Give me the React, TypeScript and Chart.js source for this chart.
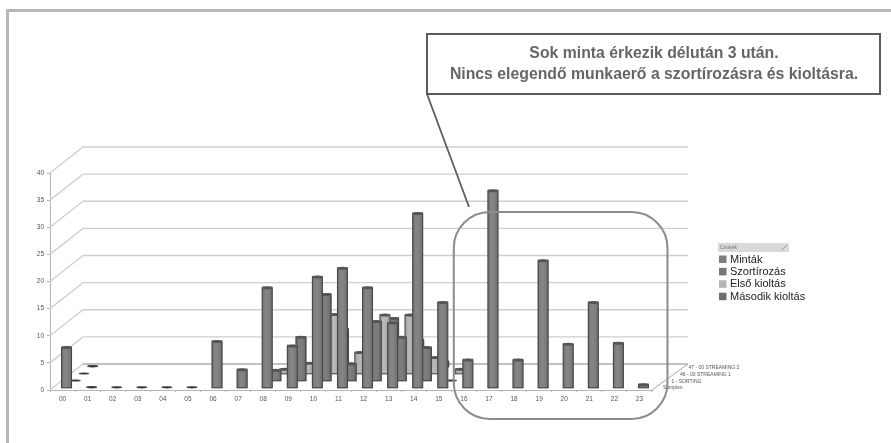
import React, { useEffect, useRef } from "react";
import { Chart, registerables } from "chart.js";

Chart.register(...registerables);

const hours = ["00","01","02","03","04","05","06","07","08","09","10","11","12","13","14","15","16","17","18","19","20","21","22","23"];
const mintak = [7.7,0.3,0.25,0.25,0.25,0.25,8.8,3.6,18.7,8,20.7,22.3,18.7,12.2,32.4,16,5.4,36.6,5.4,23.7,8.3,16,8.5,0.85];
const szortirozas = [0.2,null,null,null,null,null,null,null,2.2,8.3,16.2,3.4,11.2,8.3,6.4,0.2,null,null,null,null,null,null,null,null];
const elsoKioltas = [0.2,null,null,null,null,null,null,null,1.1,2.2,11.2,4.2,11.1,11.1,3.3,1.1,null,null,null,null,null,null,null,null];
const masodikKioltas = [0.3,null,null,null,null,null,null,null,0.5,1,7.2,3,9.2,5.2,1.2,null,null,null,null,null,null,null,null,null];
const seriesNames = ["Minták","Szortírozás","Első kioltás","Második kioltás"];
const seriesColors = ["#7e7e7e","#767676","#b4b4b4","#6f6f6f"];
const depthLabels = ["Samples","1 - SORTING","46 - 00 STREAMING 1","47 - 00 STREAMING 2"];
const calloutLines = ["Sok minta érkezik délután 3 után.","Nincs elegendő munkaerő a szortírozásra és kioltásra."];
const legendTitle = "Címkék";

const FONT = '"Liberation Sans", Arial, sans-serif';

const depthPlugin = {
  id: "depth",
  afterDatasetsUpdate(chart: any) {
    chart.data.datasets.forEach((_: any, i: number) => {
      const meta = chart.getDatasetMeta(i);
      meta.data.forEach((el: any) => {
        const dx = 4 + i * 8.7;
        const dy = 1.7 + i * 7;
        el.x += dx;
        el.y -= dy;
        el.base -= dy;
      });
    });
  },
  beforeDatasetsDraw(chart: any) {
    const { ctx, scales, chartArea } = chart;
    const y = scales.y;
    const BX = 33, BY = 26;
    const L = chartArea.left, R = chartArea.right;
    ctx.save();
    ctx.strokeStyle = "#cfcfcf";
    ctx.lineWidth = 1.3;
    y.ticks.forEach((t: any) => {
      const p = y.getPixelForValue(t.value);
      ctx.beginPath();
      ctx.moveTo(L, p);
      ctx.lineTo(L + BX, p - BY);
      ctx.lineTo(R + BX + 3, p - BY);
      ctx.stroke();
    });
    const p0 = y.getPixelForValue(0);
    ctx.strokeStyle = "#a8a8a8";
    ctx.lineWidth = 1;
    ctx.beginPath();
    ctx.moveTo(L + BX, p0 - BY);
    ctx.lineTo(R + BX + 3, p0 - BY);
    ctx.lineTo(R, p0);
    ctx.stroke();
    ctx.fillStyle = "#555";
    ctx.font = "5px " + FONT;
    ctx.textBaseline = "middle";
    ctx.textAlign = "left";
    depthLabels.forEach((s, i) => {
      ctx.fillText(s, R + 11 + i * 8.5, p0 - 2 - i * 6.7);
    });
    ctx.restore();
  },
  afterDatasetDraw(chart: any, args: any) {
    const { ctx } = chart;
    const meta = chart.getDatasetMeta(args.index);
    const data = chart.data.datasets[args.index].data;
    ctx.save();
    meta.data.forEach((el: any, k: number) => {
      if (!data[k]) return;
      const w = el.width;
      const l = el.x - w / 2;
      const h = el.base - el.y;
      if (h > 3) {
        const g = ctx.createLinearGradient(l, 0, l + w, 0);
        g.addColorStop(0, "rgba(0,0,0,0.16)");
        g.addColorStop(0.4, "rgba(255,255,255,0.05)");
        g.addColorStop(1, "rgba(0,0,0,0.18)");
        ctx.fillStyle = g;
        ctx.fillRect(l, el.y + 1, w, h - 1);
        ctx.strokeStyle = "#454545";
        ctx.lineWidth = 1;
        ctx.strokeRect(l, el.y + 1, w, h - 1);
        ctx.fillStyle = "#555";
        ctx.beginPath();
        ctx.ellipse(el.x, el.y + 1, w / 2, 1.5, 0, 0, Math.PI * 2);
        ctx.fill();
      } else {
        ctx.fillStyle = "#3f3f3f";
        ctx.beginPath();
        ctx.ellipse(el.x, el.base - h / 2, w / 2, Math.max(1.1, h / 2 + 0.6), 0, 0, Math.PI * 2);
        ctx.fill();
      }
    });
    ctx.restore();
  },
  afterDraw(chart: any) {
    const { ctx } = chart;
    ctx.save();
    // highlighted region round the afternoon hours
    const x = chart.scales.x;
    const rl = x.getPixelForValue(15) + 15;
    const rr = x.getPixelForValue(23) + 28;
    ctx.strokeStyle = "#8c8c8c";
    ctx.lineWidth = 2;
    ctx.beginPath();
    ctx.roundRect(rl, 212, rr - rl, 207, 36);
    ctx.stroke();
    // callout
    ctx.strokeStyle = "#5c5c5c";
    ctx.lineWidth = 1.8;
    ctx.beginPath();
    ctx.moveTo(427, 94);
    ctx.lineTo(469, 207);
    ctx.stroke();
    ctx.fillStyle = "#fff";
    ctx.lineWidth = 2;
    ctx.beginPath();
    ctx.rect(427, 34, 453, 60);
    ctx.fill();
    ctx.stroke();
    ctx.fillStyle = "#666";
    ctx.font = "bold 15.8px " + FONT;
    ctx.textAlign = "center";
    ctx.textBaseline = "middle";
    calloutLines.forEach((s, i) => ctx.fillText(s, 654, 54 + i * 21));
    // legend
    ctx.fillStyle = "#d9d9d9";
    ctx.fillRect(718, 243, 71, 9);
    ctx.fillStyle = "#777";
    ctx.font = "5px " + FONT;
    ctx.textAlign = "left";
    ctx.fillText(legendTitle, 720, 247.5);
    ctx.strokeStyle = "#999";
    ctx.lineWidth = 1;
    ctx.beginPath();
    ctx.moveTo(782, 250);
    ctx.lineTo(787, 245);
    ctx.stroke();
    ctx.font = "11px " + FONT;
    seriesNames.forEach((s, i) => {
      const yy = 259 + i * 12.4;
      ctx.fillStyle = seriesColors[i];
      ctx.fillRect(719, yy - 3.5, 7.5, 7.5);
      ctx.fillStyle = "#222";
      ctx.fillText(s, 730, yy + 0.5);
    });
    ctx.restore();
  },
};

export default function App() {
  const ref = useRef<HTMLCanvasElement>(null);
  useEffect(() => {
    const chart = new Chart(ref.current as HTMLCanvasElement, {
      type: "bar",
      data: {
        labels: hours,
        datasets: [mintak, szortirozas, elsoKioltas, masodikKioltas].map((d, i) => ({
          label: seriesNames[i],
          data: d,
          backgroundColor: seriesColors[i],
          barThickness: 10,
          grouped: false,
          order: i,
        })) as any,
      },
      options: {
        animation: false,
        responsive: false,
        layout: { padding: { left: 24, right: 239, top: 173, bottom: 34 } },
        plugins: { legend: { display: false }, tooltip: { enabled: false } },
        scales: {
          x: {
            afterFit: (s: any) => { s.height = 19; },
            grid: { drawOnChartArea: false, color: "#b5b5b5", tickLength: 2 },
            border: { color: "#b5b5b5" },
            ticks: { color: "#555", font: { size: 6.5, family: FONT }, maxRotation: 0, autoSkip: false, padding: 3 },
          },
          y: {
            min: 0,
            max: 40,
            afterFit: (s: any) => { s.width = 26; },
            grid: { drawOnChartArea: false, color: "#b5b5b5", tickLength: 3 },
            border: { color: "#b5b5b5" },
            ticks: { stepSize: 5, color: "#555", font: { size: 6.5, family: FONT }, padding: 3 },
          },
        },
      },
      plugins: [depthPlugin],
    });
    return () => chart.destroy();
  }, []);
  return (
    <div style={{ position: "fixed", left: 0, top: 0, width: 891, height: 443, background: "#fff", overflow: "hidden" }}>
      <canvas ref={ref} width={891} height={443} style={{ display: "block", filter: "blur(0.45px)" }} />
      <div style={{ position: "absolute", left: 6, top: 9, right: 0, height: 2.5, background: "#b7b7b7" }} />
      <div style={{ position: "absolute", left: 6, top: 9, bottom: 0, width: 2.5, background: "#b7b7b7" }} />
    </div>
  );
}
